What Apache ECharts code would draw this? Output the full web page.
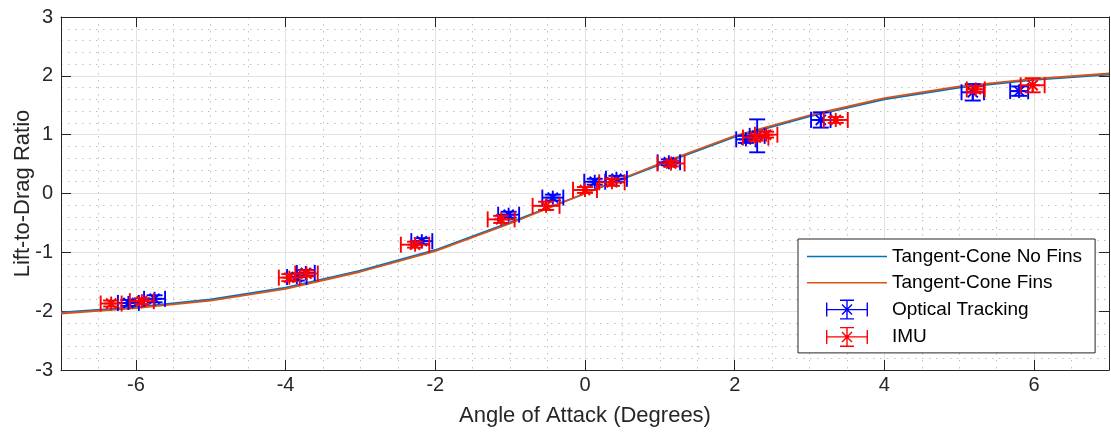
<!DOCTYPE html>
<html>
<head>
<meta charset="UTF-8">
<title>Lift-to-Drag Ratio</title>
<script src="https://cdn.jsdelivr.net/npm/echarts/dist/echarts.min.js"></script>
<style>
  body { margin: 0; background: #fff; }
  #chart { width: 1111px; height: 435px; }
</style>
</head>
<body>
<div id="chart"></div>
<script>
// model curves, sampled at whole degrees
const aoa = [-7, -6, -5, -4, -3, -2, -1, 0, 1, 2, 3, 4, 5, 6, 7];
const noFins = [-2.02, -1.93, -1.80, -1.60, -1.31, -0.96, -0.49, 0.00, 0.49, 0.96, 1.31, 1.60, 1.80, 1.93, 2.02];
const fins   = [-2.04, -1.95, -1.82, -1.62, -1.33, -0.98, -0.51, 0.00, 0.51, 0.98, 1.33, 1.62, 1.82, 1.95, 2.04];

// measured points: [angle, L/D, angle error, L/D error]
const optical = [
  [-6.10, -1.86, 0.14, 0.05], [-5.75, -1.79, 0.14, 0.06],
  [-3.85, -1.42, 0.13, 0.06], [-3.73, -1.35, 0.12, 0.05],
  [-2.18, -0.81, 0.14, 0.05], [-1.02, -0.36, 0.14, 0.05],
  [-0.43, -0.07, 0.14, 0.05], [0.13, 0.20, 0.14, 0.05],
  [0.42, 0.25, 0.14, 0.05], [1.12, 0.53, 0.15, 0.05],
  [2.15, 0.92, 0.13, 0.06], [2.30, 0.98, 0.10, 0.28],
  [3.15, 1.25, 0.13, 0.13], [5.18, 1.72, 0.15, 0.14],
  [5.80, 1.74, 0.12, 0.08]
];
const imu = [
  [-6.33, -1.87, 0.14, 0.05], [-5.92, -1.83, 0.16, 0.05],
  [-3.95, -1.43, 0.14, 0.06], [-3.72, -1.36, 0.15, 0.05],
  [-2.27, -0.87, 0.19, 0.05], [-1.12, -0.44, 0.18, 0.06],
  [-0.52, -0.21, 0.18, 0.07], [0.00, 0.06, 0.16, 0.05],
  [0.36, 0.19, 0.17, 0.06], [1.15, 0.51, 0.18, 0.05],
  [2.28, 0.95, 0.17, 0.05], [2.42, 1.00, 0.15, 0.05],
  [3.35, 1.25, 0.16, 0.05], [5.22, 1.77, 0.12, 0.05],
  [5.98, 1.84, 0.16, 0.12]
];

const xTicks = [-6, -4, -2, 0, 2, 4, 6];

const font = '"Liberation Sans", Arial, Helvetica, sans-serif';
const axisColor = '#262626';

// legend icons
const lineIcon = 'path://M0,0 H80 V1.6 H0 Z';
const errIcon = 'path://' +
  'M0,9.3 H42 V10.7 H0 Z ' +
  'M0,3 H1.4 V17 H0 Z ' +
  'M40.6,3 H42 V17 H40.6 Z ' +
  'M20.3,0 H21.7 V20 H20.3 Z ' +
  'M14,0 H28 V1.4 H14 Z ' +
  'M14,18.6 H28 V20 H14 Z ' +
  'M15.5,5.5 L16.5,4.5 L26.5,14.5 L25.5,15.5 Z ' +
  'M25.5,4.5 L26.5,5.5 L16.5,15.5 L15.5,14.5 Z';

// error bars + asterisk marker
function renderErr(params, api) {
  const x = api.value(0), y = api.value(1);
  const ex = api.value(2), ey = api.value(3);
  const c = api.coord([x, y]);
  const l = api.coord([x - ex, y]), r = api.coord([x + ex, y]);
  const t = api.coord([x, y + ey]), b = api.coord([x, y - ey]);
  const cap = 8, m = 7, d = m * 0.72;
  const style = { stroke: api.visual('color'), lineWidth: 1.9, fill: null };
  const seg = (x1, y1, x2, y2) => ({ type: 'line', shape: { x1, y1, x2, y2 }, style });
  return {
    type: 'group',
    children: [
      seg(l[0], l[1], r[0], r[1]),
      seg(l[0], l[1] - cap, l[0], l[1] + cap),
      seg(r[0], r[1] - cap, r[0], r[1] + cap),
      seg(t[0], t[1], b[0], b[1]),
      seg(t[0] - cap, t[1], t[0] + cap, t[1]),
      seg(b[0] - cap, b[1], b[0] + cap, b[1]),
      seg(c[0] - m, c[1], c[0] + m, c[1]),
      seg(c[0], c[1] - m, c[0], c[1] + m),
      seg(c[0] - d, c[1] - d, c[0] + d, c[1] + d),
      seg(c[0] - d, c[1] + d, c[0] + d, c[1] - d)
    ]
  };
}

const chart = echarts.init(document.getElementById('chart'), null, { renderer: 'canvas' });

const option = {
  animation: false,
  textStyle: { fontFamily: font },
  grid: { left: 61, right: 2, top: 17, bottom: 65, outerBoundsMode: 'none' },
  legend: {
    orient: 'vertical',
    left: 798,
    top: 239,
    padding: [8, 13, 6, 9],
    itemWidth: 80,
    itemHeight: 20,
    itemGap: 7.3,
    backgroundColor: '#fff',
    borderColor: axisColor,
    borderWidth: 1,
    textStyle: { fontFamily: font, fontSize: 19, color: '#000' },
    data: [
      { name: 'Tangent-Cone No Fins', icon: lineIcon },
      { name: 'Tangent-Cone Fins', icon: lineIcon },
      { name: 'Optical Tracking', icon: errIcon },
      { name: 'IMU', icon: errIcon }
    ]
  },
  xAxis: [
    {
      type: 'value', position: 'bottom', min: -7, max: 7, z: 1,
      name: 'Angle of Attack (Degrees)', nameLocation: 'middle', nameGap: 35,
      nameMoveOverlap: false,
      nameTextStyle: { fontFamily: font, fontSize: 22, color: '#262626' },
      axisLine: { show: true, onZero: false, lineStyle: { color: axisColor, width: 1 } },
      axisTick: { show: true, inside: true, length: 10, customValues: xTicks, lineStyle: { color: axisColor } },
      axisLabel: { customValues: xTicks, margin: 5, fontSize: 20, color: '#262626', fontFamily: font },
      splitLine: { show: true, lineStyle: { color: '#e2e2e2', width: 1 } }
    },
    {
      type: 'value', position: 'top', min: -7, max: 7, z: 1,
      axisLine: { show: true, onZero: false, lineStyle: { color: axisColor, width: 1 } },
      axisTick: { show: true, inside: true, length: 10, customValues: xTicks, lineStyle: { color: axisColor } },
      axisLabel: { show: false },
      splitLine: { show: false }
    },
    {
      // minor grid
      type: 'value', position: 'bottom', min: -7, max: 7, interval: 0.5, z: 0,
      axisLine: { show: false }, axisTick: { show: false }, axisLabel: { show: false },
      splitLine: { show: true, lineStyle: { color: '#c0c0c0', width: 1, type: [1.5, 5.5] } }
    }
  ],
  yAxis: [
    {
      type: 'value', position: 'left', min: -3, max: 3, interval: 1, z: 1,
      name: 'Lift-to-Drag Ratio', nameLocation: 'middle', nameGap: 27,
      nameMoveOverlap: false,
      nameTextStyle: { fontFamily: font, fontSize: 22, color: '#262626' },
      axisLine: { show: true, onZero: false, lineStyle: { color: axisColor, width: 1 } },
      axisTick: { show: true, inside: true, length: 10, lineStyle: { color: axisColor } },
      axisLabel: { margin: 8, fontSize: 20, color: '#262626', fontFamily: font },
      splitLine: { show: true, lineStyle: { color: '#e2e2e2', width: 1 } },
      minorTick: { show: false, splitNumber: 5 },
      minorSplitLine: { show: true, lineStyle: { color: '#c0c0c0', width: 1, type: [1.5, 5.5] } }
    },
    {
      type: 'value', position: 'right', min: -3, max: 3, interval: 1, z: 1,
      axisLine: { show: true, onZero: false, lineStyle: { color: axisColor, width: 1 } },
      axisTick: { show: true, inside: true, length: 10, lineStyle: { color: axisColor } },
      axisLabel: { show: false },
      splitLine: { show: false }
    }
  ],
  series: [
    {
      name: 'Tangent-Cone No Fins', type: 'line', xAxisIndex: 0, yAxisIndex: 0,
      data: aoa.map((a, i) => [a, noFins[i]]),
      symbol: 'none', showSymbol: false, z: 3,
      lineStyle: { color: '#0072BD', width: 1.8 }, itemStyle: { color: '#0072BD' }
    },
    {
      name: 'Tangent-Cone Fins', type: 'line', xAxisIndex: 0, yAxisIndex: 0,
      data: aoa.map((a, i) => [a, fins[i]]),
      symbol: 'none', showSymbol: false, z: 3,
      lineStyle: { color: '#D95319', width: 1.8 }, itemStyle: { color: '#D95319' }
    },
    {
      name: 'Optical Tracking', type: 'custom', xAxisIndex: 0, yAxisIndex: 0,
      renderItem: renderErr, data: optical, encode: { x: 0, y: 1 }, z: 4,
      itemStyle: { color: '#0000FF' }
    },
    {
      name: 'IMU', type: 'custom', xAxisIndex: 0, yAxisIndex: 0,
      renderItem: renderErr, data: imu, encode: { x: 0, y: 1 }, z: 5,
      itemStyle: { color: '#FF0000' }
    }
  ]
};

chart.setOption(option);
</script>
</body>
</html>
